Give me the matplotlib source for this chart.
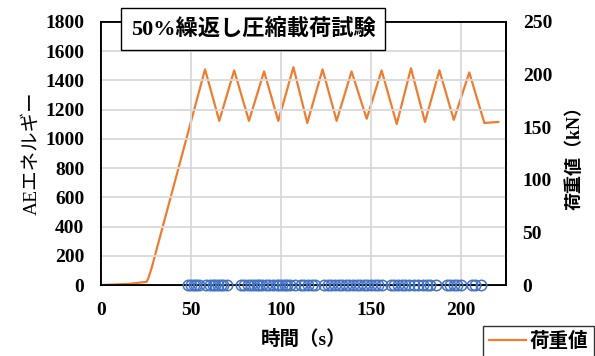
import matplotlib.pyplot as plt

plt.rcParams['font.family'] = ['Liberation Serif', 'Noto Sans CJK JP']

# load curve (right axis, kN)
load_t = [0, 15, 25.3, 26.2, 28.1, 57.8, 65.7, 74.0, 82.2, 90.6, 98.5, 106.9,
          114.6, 123.1, 130.9, 139.2, 147.6, 155.9, 164.3, 172.2, 180.0, 188.0,
          196.0, 204.6, 213.0, 220.7]
load_kn = [0, 1, 3, 6, 16, 205, 156, 204, 156, 203, 156, 207,
           154, 205, 156, 203, 158, 204, 153, 206, 155, 204,
           157, 202, 154, 155]

# AE hits (left axis, all near zero energy)
ae_t = [48.5, 50, 51.5, 53, 54.5, 58.5, 60.5, 62, 63.5, 65, 66.5, 68, 70,
        77.5, 79.5, 81.5, 83.5, 85, 86.5, 88, 89.5, 91.5, 93.5, 95.5, 97.5,
        99, 100.5, 102, 103.5, 105, 108, 111, 113, 115, 117, 119, 124, 126,
        128, 130, 132, 134, 136, 138, 140, 142, 144, 146, 148, 150, 152, 154,
        156, 161, 163, 165, 167, 169, 171, 174, 176, 179, 181, 183, 186,
        192, 194, 196, 198, 200, 206, 208, 211]
ae_e = [0] * len(ae_t)

blue = '#4472C4'
orange = '#ED7D31'

fig = plt.figure(figsize=(5.95, 3.56), dpi=100)
fig.subplots_adjust(left=101/595, right=506/595, top=1-22/356, bottom=1-285/356)
ax = fig.add_subplot(111)
ax2 = ax.twinx()

ax.plot(ae_t, ae_e, 'o', mfc='none', mec=blue, ms=7.5, mew=1.1, zorder=3, clip_on=False)
line, = ax2.plot(load_t, load_kn, color=orange, lw=1.6, label='荷重値')

ax.set_xlim(0, 225)
ax.set_ylim(0, 1800)
ax2.set_ylim(0, 250)
ax.set_xticks([0, 50, 100, 150, 200])
ax.set_yticks(range(0, 1801, 200))
ax2.set_yticks(range(0, 251, 50))
ax.grid(True, color='#d9d9d9', lw=1.3)
ax.set_axisbelow(True)
ax.set_zorder(2)
ax.patch.set_visible(False)
ax2.set_zorder(1)

for a in (ax, ax2):
    for s in a.spines.values():
        s.set_color('black')
        s.set_linewidth(1.3)
ax.tick_params(length=0, labelsize=14, pad=12)
ax2.tick_params(length=0, labelsize=14, pad=12)
for lab in ax.get_xticklabels() + ax.get_yticklabels() + ax2.get_yticklabels():
    lab.set_fontweight('bold')

ax.set_xlabel('時間（s）', fontsize=14, fontweight='bold', labelpad=8)
ax.set_ylabel('AEエネルギー', fontsize=14, labelpad=3)
ax2.set_ylabel('荷重値（kN）', fontsize=13, fontweight='bold', labelpad=10)

fig.text(253/595, 1-29/356, '50%繰返し圧縮載荷試験', ha='center', va='center',
         fontsize=16, fontweight='bold',
         bbox=dict(boxstyle='square,pad=0.45', fc='white', ec='black', lw=1))

fig.legend(handles=[line], loc='upper left', bbox_to_anchor=(483/595, 1-326/356),
           frameon=True, fancybox=False, edgecolor='black',
           handlelength=1.9, handletextpad=0.2, borderaxespad=0, borderpad=0.3,
           prop={'weight': 'bold', 'size': 14})

fig.savefig('out.png', dpi=100)
